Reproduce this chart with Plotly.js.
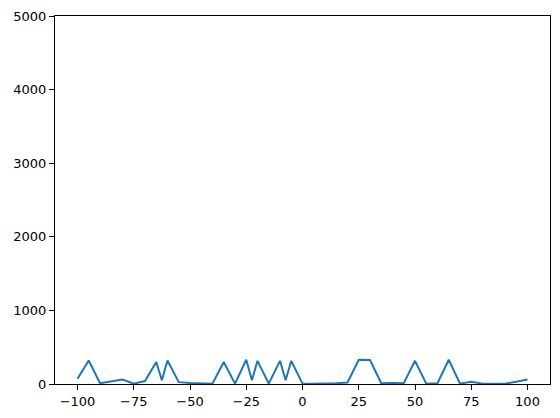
<!DOCTYPE html>
<html>
<head>
<meta charset="utf-8">
<script src="https://cdn.plot.ly/plotly-3.0.1.min.js"></script>
<style>html,body{margin:0;padding:0;background:#fff;}#chart{width:560px;height:418px;}</style>
</head>
<body>
<div id="chart"></div>
<script>
const xValues = [-100,-95,-90,-80,-75,-70,-65,-62.5,-60,-55,-50,-45,-40,-35,-30,-25,-22.5,-20,-15,-10,-7.5,-5,0,5,10,15,20,25,30,35,40,45,50,55,60,65,70,75,80,85,90,95,100];
const yValues = [70,320,10,60,5,40,300,50,320,25,15,5,5,300,5,330,50,315,5,315,50,315,5,5,5,10,20,330,325,10,15,10,315,5,10,330,5,30,5,10,5,30,60];
const xTicks = [-100,-75,-50,-25,0,25,50,75,100];
const yTicks = [0,1000,2000,3000,4000,5000];

const fmt = v => (v < 0 ? '\u2212' + Math.abs(v) : String(v));
const axisCommon = {
  showgrid: false, zeroline: false, showline: true, mirror: true,
  linecolor: '#000', linewidth: 1, ticks: 'outside', ticklen: 5, tickwidth: 1,
  tickcolor: '#000', tickfont: {family: 'DejaVu Sans', size: 13, color: '#000'}
};
Plotly.newPlot('chart', [{
  x: xValues, y: yValues, type: 'scatter', mode: 'lines',
  line: {color: '#1f77b4', width: 2}
}], {
  width: 560, height: 418,
  margin: {l: 55, r: 10, t: 16, b: 34},
  paper_bgcolor: '#fff', plot_bgcolor: '#fff',
  showlegend: false,
  xaxis: Object.assign({}, axisCommon, {range: [-110, 110], tickvals: xTicks, ticktext: xTicks.map(fmt)}),
  yaxis: Object.assign({}, axisCommon, {range: [0, 5000], tickvals: yTicks, ticktext: yTicks.map(fmt)})
}, {displayModeBar: false, staticPlot: true});
</script>
</body>
</html>
